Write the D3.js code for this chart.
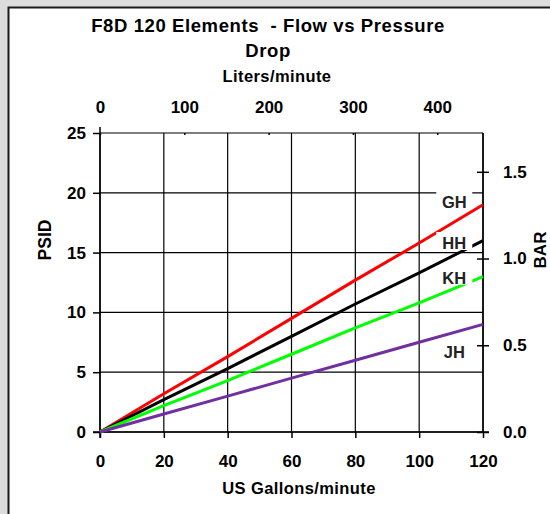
<!DOCTYPE html>
<html>
<head>
<meta charset="utf-8">
<script src="https://cdn.jsdelivr.net/npm/d3@7"></script>
<style>
  html, body { margin: 0; padding: 0; background: #dcdcdc; overflow: hidden; }
  svg { display: block; font-family: "Liberation Sans", Arial, sans-serif; font-weight: bold; }
</style>
</head>
<body>
<div id="chart"></div>
<script>
// flow in US gallons/minute
const flowGpm = [0, 20, 40, 60, 80, 100, 120];

// pressure drop (PSID) per element type
const psiGH = [0, 3.2, 6.3, 9.5, 12.7, 15.8, 19.0];
const psiHH = [0, 2.7, 5.3, 8.0, 10.7, 13.3, 16.0];
const psiKH = [0, 2.2, 4.3, 6.5, 8.7, 10.8, 13.0];
const psiJH = [0, 1.5, 3.0, 4.5, 6.0, 7.5, 9.0];

const seriesNames = ["GH", "HH", "KH", "JH"];
const seriesColors = ["#ff0000", "#000000", "#00ff00", "#7030a0"];

// where each series name sits (gpm, psi)
const labelGpm = [111, 111, 111, 111];
const labelPsi = [19.2, 15.8, 12.9, 6.7];

const psiTicks = [0, 5, 10, 15, 20, 25];
const gpmTicks = [0, 20, 40, 60, 80, 100, 120];
const literTicks = [0, 100, 200, 300, 400];
const barTicks = [0, 0.5, 1.0, 1.5];

const LITERS_PER_GALLON = 3.785411784;
const PSI_PER_BAR = 14.5038;

var width = 550, height = 514;
var plot = {left: 100, right: 483, top: 133, bottom: 432};

var svg = d3.select("#chart").append("svg")
    .attr("width", width)
    .attr("height", height);

// white panel with dark border (runs off the right/bottom edges)
svg.append("rect")
    .attr("x", 8.5)
    .attr("y", 7.5)
    .attr("width", 600)
    .attr("height", 600)
    .attr("fill", "#fff")
    .attr("stroke", "#1a1a1a")
    .attr("stroke-width", 2);

var x = d3.scaleLinear().domain([0, 120]).range([plot.left, plot.right]);
var xL = d3.scaleLinear().domain([0, 120 * LITERS_PER_GALLON]).range([plot.left, plot.right]);
var y = d3.scaleLinear().domain([0, 25]).range([plot.bottom, plot.top]);
var yB = d3.scaleLinear().domain([0, 25 / PSI_PER_BAR]).range([plot.bottom, plot.top]);

// grid
var grid = svg.append("g").attr("stroke", "#000").attr("stroke-width", 1.2);
grid.selectAll(".hgrid")
    .data(psiTicks)
    .enter().append("line")
    .attr("x1", plot.left).attr("x2", plot.right)
    .attr("y1", d => y(d)).attr("y2", d => y(d));
grid.selectAll(".vgrid")
    .data(gpmTicks)
    .enter().append("line")
    .attr("x1", d => x(d)).attr("x2", d => x(d))
    .attr("y1", plot.top).attr("y2", plot.bottom);

// axes
var fontSize = 17;

var gLeft = svg.append("g")
    .attr("transform", "translate(" + plot.left + ",0)")
    .call(d3.axisLeft(y).tickValues(psiTicks).tickSize(7).tickPadding(7));

var gBottom = svg.append("g")
    .attr("transform", "translate(0," + plot.bottom + ")")
    .call(d3.axisBottom(x).tickValues(gpmTicks).tickSize(6).tickPadding(17));

var gTop = svg.append("g")
    .attr("transform", "translate(0," + plot.top + ")")
    .call(d3.axisTop(xL).tickValues(literTicks).tickSize(6).tickPadding(14));

var gRight = svg.append("g")
    .attr("transform", "translate(" + plot.right + ",0)")
    .call(d3.axisRight(yB).tickValues(barTicks).tickFormat(d3.format(".1f")).tickSize(6).tickPadding(14));

// crossing ticks on the right axis
gRight.selectAll(".tick line").attr("x1", -6);
gTop.selectAll(".tick line").attr("y2", 2);

[gLeft, gBottom, gTop, gRight].forEach(function (g) {
  g.select(".domain").remove();
  g.selectAll(".tick line").attr("stroke", "#000").attr("stroke-width", 1.5);
  g.selectAll("text")
      .attr("font-family", "Liberation Sans, Arial, sans-serif")
      .attr("font-weight", "bold")
      .attr("font-size", fontSize)
      .attr("fill", "#000");
});

// plot frame
svg.append("line")
    .attr("x1", plot.left).attr("x2", plot.left)
    .attr("y1", plot.top - 6).attr("y2", plot.bottom + 6)
    .attr("stroke", "#000").attr("stroke-width", 1.5);
svg.append("line")
    .attr("x1", plot.right).attr("x2", plot.right)
    .attr("y1", plot.top).attr("y2", plot.bottom)
    .attr("stroke", "#000").attr("stroke-width", 1.5);
svg.append("line")
    .attr("x1", plot.left - 7).attr("x2", plot.right + 6)
    .attr("y1", plot.bottom).attr("y2", plot.bottom)
    .attr("stroke", "#000").attr("stroke-width", 1.5);

// series lines
var allSeries = [psiGH, psiHH, psiKH, psiJH];
var line = d3.line()
    .x(function (d, i) { return x(flowGpm[i]); })
    .y(function (d) { return y(d); });

svg.append("g").selectAll("path")
    .data(allSeries)
    .enter().append("path")
    .attr("d", line)
    .attr("fill", "none")
    .attr("stroke", function (d, i) { return seriesColors[i]; })
    .attr("stroke-width", 3);

// series labels with white boxes
var labels = svg.append("g").selectAll("g")
    .data(seriesNames)
    .enter().append("g")
    .attr("transform", function (d, i) {
      return "translate(" + x(labelGpm[i]) + "," + y(labelPsi[i]) + ")";
    });

labels.filter(function (d) { return d !== "JH"; })
    .append("rect")
    .attr("x", -18)
    .attr("y", -11)
    .attr("width", 36)
    .attr("height", 18)
    .attr("fill", "#fff");

labels.append("text")
    .attr("text-anchor", "middle")
    .attr("dy", "0.36em")
    .attr("font-size", 16.5)
    .attr("fill", "#222")
    .text(function (d) { return d; });

// titles
var title = svg.append("text")
    .attr("text-anchor", "middle")
    .attr("font-size", 18.5)
    .attr("letter-spacing", 0.6)
    .attr("fill", "#000");
title.append("tspan").attr("x", 268).attr("y", 31.5)
    .attr("xml:space", "preserve")
    .text("F8D 120 Elements  - Flow vs Pressure");
title.append("tspan").attr("x", 268).attr("y", 56.5).text("Drop");

svg.append("text")
    .attr("x", 277).attr("y", 81.5)
    .attr("text-anchor", "middle")
    .attr("font-size", 16.5)
    .attr("letter-spacing", 0.4)
    .text("Liters/minute");

svg.append("text")
    .attr("x", 299).attr("y", 494)
    .attr("text-anchor", "middle")
    .attr("font-size", 16.5)
    .attr("letter-spacing", 0.4)
    .text("US Gallons/minute");

svg.append("text")
    .attr("transform", "translate(51,240) rotate(-90)")
    .attr("text-anchor", "middle")
    .attr("font-size", 17.5)
    .text("PSID");

svg.append("text")
    .attr("transform", "translate(546,250) rotate(-90)")
    .attr("text-anchor", "middle")
    .attr("font-size", 17)
    .text("BAR");
</script>
</body>
</html>
